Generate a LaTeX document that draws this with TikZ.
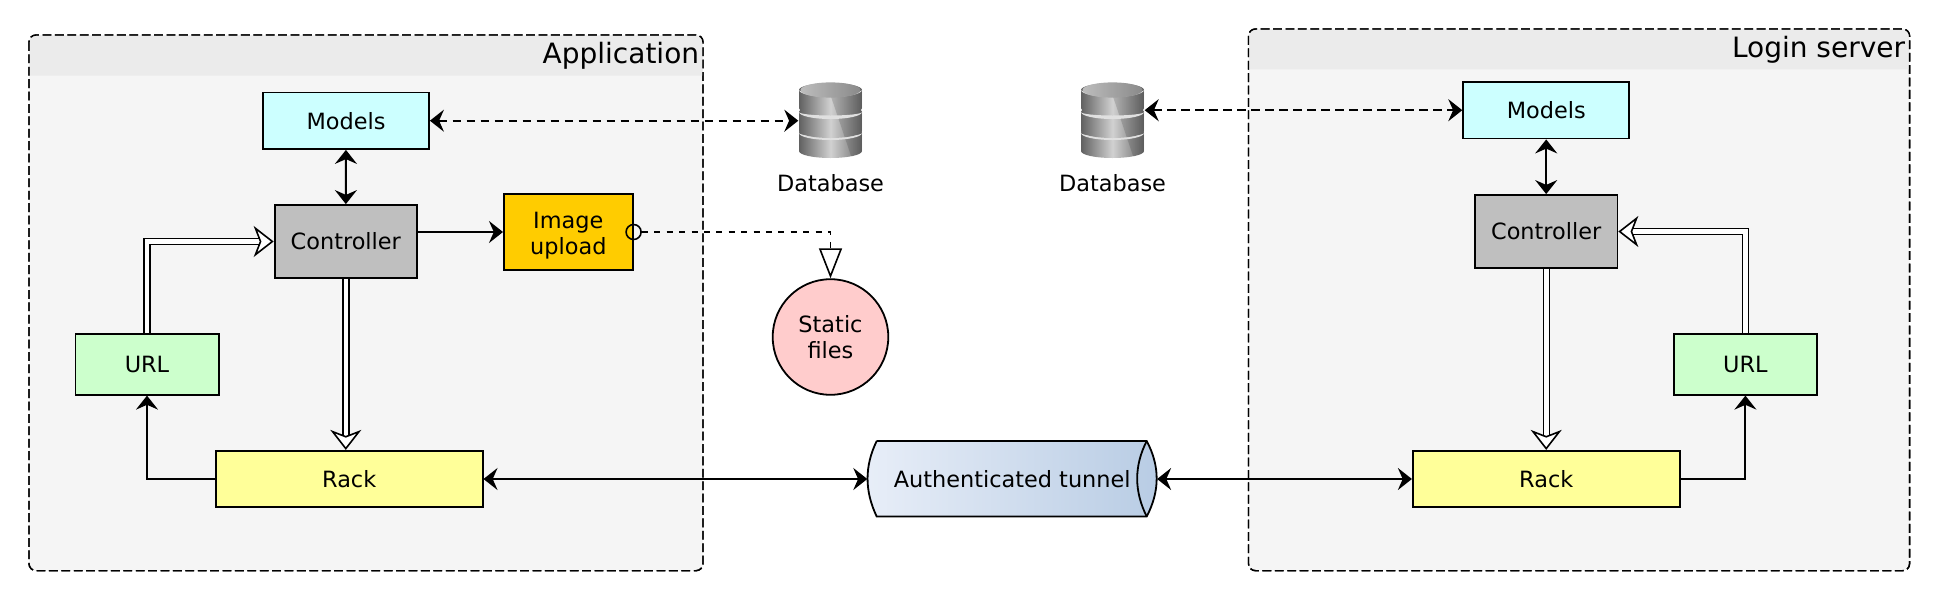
\documentclass[tikz,border=0pt]{standalone}
\usepackage{fontspec}
\setmainfont{DejaVu Sans}
\usetikzlibrary{arrows.meta}

\definecolor{bodyfill}{HTML}{F5F5F5}
\definecolor{headfill}{HTML}{EBEBEB}
\definecolor{modelfill}{HTML}{CCFFFF}
\definecolor{ctrlfill}{HTML}{BFBFBF}
\definecolor{uploadfill}{HTML}{FFCC00}
\definecolor{urlfill}{HTML}{CCFFCC}
\definecolor{rackfill}{HTML}{FFFF99}
\definecolor{staticfill}{HTML}{FFCCCC}
\definecolor{tunnelleft}{HTML}{E8EEF8}
\definecolor{tunnelright}{HTML}{B8CCE4}

\tikzset{
  box/.style={draw, line width=.9pt, inner sep=0pt, align=center},
  modelbox/.style={box, fill=modelfill, minimum width=83pt, minimum height=28.3pt},
  ctrlbox/.style={box, fill=ctrlfill, minimum width=71.2pt, minimum height=36.5pt},
  urlbox/.style={box, fill=urlfill, minimum width=71.6pt, minimum height=30.3pt},
  rackbox/.style={box, fill=rackfill, minimum height=28.2pt, minimum width=133.4pt},
  frameline/.style={draw, line width=.7pt, dash pattern=on 4.4pt off 1.8pt, rounded corners=3.5pt, fill=bodyfill},
  headband/.style={fill=headfill},
  framelabel/.style={font=\fontsize{14}{16}\selectfont, anchor=east, inner sep=0pt},
  link/.style={line width=.95pt, >={Stealth[length=7pt,width=11pt,inset=2.4pt]}},
  dashlink/.style={link, dash pattern=on 4.4pt off 2.6pt},
  flow/.style={line width=.7pt, double, double distance=2.3pt,
    -{Stealth[open,fill=white,length=10pt,width=15.5pt,inset=3pt,line width=.8pt]}},
  dblabel/.style={anchor=base, inner sep=0pt},
  dbicon/.pic={
    % bottom disk first, each one lies on the next
    \foreach \topy/\boty in {12.7/30.7,-8.3/10.7,-30.3/-12.3}{
      \begin{scope}
        \clip (-31.5,\topy) -- (-31.5,\boty) arc[start angle=180,end angle=0,x radius=31.5,y radius=7]
          -- (31.5,\topy) arc[start angle=0,end angle=-180,x radius=31.5,y radius=7] -- cycle;
        \shade[left color=black!62, right color=black!58, middle color=black!18] (-31.5,-45) rectangle (31.5,45);
        \fill[black, opacity=.14] (-5,-40) -- (22,40) -- (40,40) -- (40,-40) -- cycle;
      \end{scope}
      \fill[black!12] (-31.5,\topy) arc[start angle=180,end angle=0,x radius=31.5,y radius=7]
        arc[start angle=0,end angle=180,x radius=31.5,y radius=3.5] -- cycle;
    }
    \shade[left color=black!26, right color=black!46] (0,-30.3) ellipse[x radius=30,y radius=7.6];
  }
}

\begin{document}
\begin{tikzpicture}[x=.5pt, y=-.5pt, every node/.style={font=\fontsize{11.2}{13}\selectfont}]
  \useasboundingbox (0,0) rectangle (1939,600);

  % the two servers
  \path[frameline] (29,35) rectangle (703,570.7);
  \path[frameline] (1248.5,29) rectangle (1909.6,570.7);
  \fill[headband] (29.5,75.7) [rounded corners=3.5pt] -- (29.5,35.5) -- (702.5,35.5) [sharp corners] -- (702.5,75.7) -- cycle;
  \fill[headband] (1249,69.3) [rounded corners=3.5pt] -- (1249,29.5) -- (1909.1,29.5) [sharp corners] -- (1909.1,69.3) -- cycle;
  \path[frameline, fill=none] (29,35) rectangle (703,570.7);
  \path[frameline, fill=none] (1248.5,29) rectangle (1909.6,570.7);
  \node[framelabel] (applabel) at (699.5,56) {Application};
  \node[framelabel] (loginlabel) at (1905.5,50) {Login server};

  \node[modelbox] (models1) at (346,120.7) {Models};
  \node[ctrlbox] (controller1) at (345.8,241.5) {Controller};
  \node[box, fill=uploadfill, minimum width=64.4pt, minimum height=38.3pt] (upload) at (568.3,232) {\rule{0pt}{11.5pt}Image\\upload};
  \node[urlbox] (url1) at (147,364.4) {URL};
  \node[rackbox] (rack1) at (349.2,479) {Rack};

  \node[modelbox] (models2) at (1546.2,110.2) {Models};
  \node[ctrlbox] (controller2) at (1546.2,231.5) {Controller};
  \node[urlbox] (url2) at (1745.4,364.4) {URL};
  \node[rackbox] (rack2) at (1546.2,479) {Rack};

  % databases
  \pic at (830.5,120.3) {dbicon};
  \pic at (1112.5,120.3) {dbicon};
  \node[minimum width=31.8pt, minimum height=38pt, inner sep=0pt] (database1) at (830.5,120.3) {};
  \node[minimum width=31.8pt, minimum height=38pt, inner sep=0pt] (database2) at (1112.5,120.3) {};
  \node[dblabel] (dbtext1) at (830.5,191) {Database};
  \node[dblabel] (dbtext2) at (1112.5,191) {Database};

  \node[circle, draw, line width=.9pt, fill=staticfill, minimum size=57.8pt, inner sep=0pt, align=center] (static) at (830.5,337) {Static\\files};
  \node[circle, draw, line width=.8pt, minimum size=7.5pt, inner sep=0pt] (port) at (upload.east) {};

  % tunnel
  \shade[left color=tunnelleft, right color=tunnelright] (876.7,441) -- (1146.7,441) .. controls (1160,466) and (1160,491) .. (1146.7,516.5)
    -- (876.7,516.5) .. controls (864.5,491) and (864.5,466) .. (876.7,441);
  \draw[line width=.9pt] (876.7,441) -- (1146.7,441) .. controls (1160,466) and (1160,491) .. (1146.7,516.5)
    -- (876.7,516.5) .. controls (864.5,491) and (864.5,466) .. (876.7,441);
  \draw[line width=.9pt] (1146.7,441) .. controls (1134,466) and (1134,491) .. (1146.7,516.5);
  \node[inner sep=0pt, minimum width=144.5pt, minimum height=37.7pt] (tunnel) at (1012.2,479) {Authenticated tunnel};

  \draw[link, <->] (models1) -- (controller1);
  \draw[link, ->] (controller1.east |- upload) -- (upload);
  \draw[flow] (url1) |- (controller1);
  \draw[flow] (controller1) -- (controller1 |- rack1.north);
  \draw[link, ->] (rack1) -| (url1);
  \draw[dashlink, <->] (models1) -- (models1 -| database1.west);
  \draw[line width=.6pt, dash pattern=on 3pt off 3.2pt, -{Triangle[open,fill=white,length=15pt,width=11.5pt,line width=.8pt]}] (port) -| (static);
  \draw[link, <->] (rack1) -- (tunnel);

  \draw[link, <->] (tunnel) -- (rack2);
  \draw[dashlink, <->] (models2 -| database2.east) -- (models2);
  \draw[link, <->] (models2) -- (controller2);
  \draw[flow] (url2) |- (controller2);
  \draw[flow] (controller2) -- (controller2 |- rack2.north);
  \draw[link, ->] (rack2) -| (url2);
\end{tikzpicture}
\end{document}
